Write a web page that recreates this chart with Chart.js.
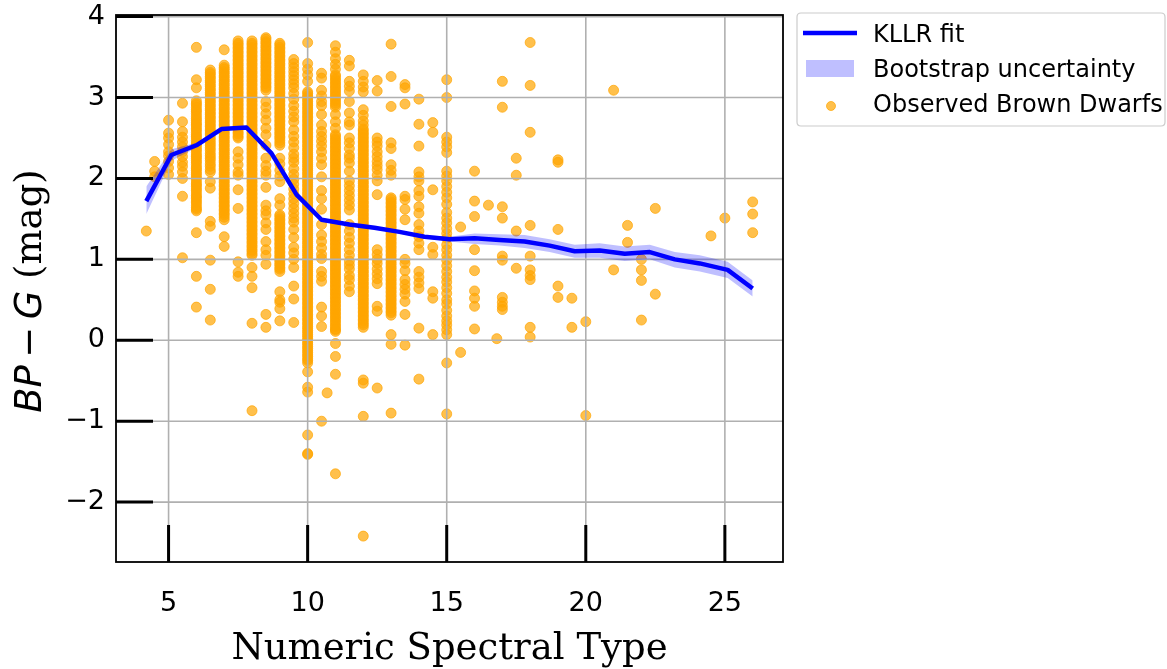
<!DOCTYPE html>
<html><head><meta charset="utf-8">
<script src="https://cdn.jsdelivr.net/npm/chart.js@4.4.1/dist/chart.umd.min.js"></script>
<style>html,body{margin:0;padding:0;background:#fff;} canvas{display:block;}</style>
</head><body>
<canvas id="c" width="1167" height="669"></canvas>
<script>
// ---------- Observed brown dwarfs: BP-G colour per numeric spectral type ----------
const t4_2 = [1.35];
const t4_5 = [2.21, 2.09, 2.02];
const t5_0 = [2.72, 2.56, 2.50, 2.42, 2.33, 2.28, 2.21, 2.13, 2.05];
const t5_5 = [2.93, 2.70, 2.58, 2.51, 2.45, 2.39, 2.33, 2.27, 2.20, 2.15, 2.08, 2.00, 1.78, 1.02];
const t6_0 = [3.62, 3.22, 3.12, 2.96, 2.91, 2.85, 2.80, 2.74, 2.69, 2.65, 2.60, 2.54, 2.50, 2.44, 2.40, 2.35, 2.29, 2.25, 2.20, 2.14, 2.10, 2.05, 2.00, 1.94, 1.90, 1.85, 1.79, 1.75, 1.70, 1.64, 1.60, 1.33, 0.79, 0.41,
  2.93, 2.88, 2.83, 2.77, 2.72, 2.67, 2.62, 2.57, 2.52, 2.47, 2.42, 2.37, 2.32, 2.27, 2.22, 2.17, 2.12, 2.07, 2.02, 1.97, 1.92, 1.87, 1.82, 1.77, 1.72, 1.67, 1.62];
const t6_5 = [3.34, 3.29, 3.24, 3.19, 3.14, 3.09, 3.04, 2.99, 2.94, 2.89, 2.84, 2.79, 2.74, 2.69, 2.64, 2.59, 2.54, 2.47, 2.41, 2.35, 2.28, 2.22, 2.15, 2.08, 1.96, 1.88, 1.47, 1.41, 0.99, 0.63, 0.25,
  3.31, 3.26, 3.21, 3.16, 3.11, 3.06, 3.01, 2.96, 2.91, 2.86, 2.81, 2.76, 2.71, 2.66, 2.61, 2.56, 2.50, 2.44, 2.38, 2.31, 2.25, 2.18, 2.11];
const t7_0 = [3.59, 3.40, 3.35, 3.30, 3.25, 3.20, 3.15, 3.10, 3.05, 3.00, 2.95, 2.90, 2.85, 2.80, 2.75, 2.70, 2.65, 2.60, 2.55, 2.50, 2.45, 2.40, 2.35, 2.30, 2.25, 2.20, 2.15, 2.10, 2.05, 2.00, 1.95, 1.90, 1.85, 1.80, 1.75, 1.70, 1.65, 1.60, 1.55, 1.49, 1.28, 1.16,
  3.37, 3.32, 3.27, 3.22, 3.17, 3.12, 3.07, 3.02, 2.97, 2.92, 2.87, 2.82, 2.77, 2.72, 2.67, 2.62, 2.57, 2.52, 2.47, 2.42, 2.37, 2.32, 2.27, 2.22, 2.17, 2.12, 2.07, 2.02, 1.97, 1.92, 1.87, 1.82, 1.77, 1.72, 1.67, 1.62, 1.57, 1.52];
const t7_5 = [3.70, 3.65, 3.60, 3.55, 3.50, 3.45, 3.40, 3.35, 3.30, 3.25, 3.20, 3.15, 3.10, 3.05, 3.00, 2.95, 2.90, 2.85, 2.80, 2.75, 2.70, 2.65, 2.60, 2.55, 2.50, 2.33, 2.25, 2.17, 2.08, 2.04, 1.86, 1.63, 0.97, 0.84, 0.79,
  3.67, 3.62, 3.57, 3.52, 3.47, 3.42, 3.37, 3.32, 3.27, 3.22, 3.17, 3.12, 3.07, 3.02, 2.97, 2.92, 2.87, 2.82, 2.77, 2.72, 2.67, 2.62, 2.57, 2.52];
const t8_0 = [3.70, 3.65, 3.60, 3.55, 3.50, 3.45, 3.40, 3.35, 3.30, 3.25, 3.20, 3.15, 3.10, 3.05, 3.00, 2.95, 2.90, 2.85, 2.80, 2.75, 2.70, 2.65, 2.60, 2.55, 2.50, 2.45, 2.40, 2.35, 2.30, 2.25, 2.20, 2.15, 2.10, 2.05, 2.00, 1.95, 1.90, 1.85, 1.80, 1.75, 1.70, 1.65, 1.60, 1.55, 1.50, 1.45, 1.40, 1.35, 1.30, 1.25, 1.20, 1.15, 1.10, 1.05, 0.90, 0.79, 0.65, 0.21, -0.87,
  3.67, 3.62, 3.57, 3.52, 3.47, 3.42, 3.37, 3.32, 3.27, 3.22, 3.17, 3.12, 3.07, 3.02, 2.97, 2.92, 2.87, 2.82, 2.77, 2.72, 2.67, 2.62, 2.57, 2.52, 2.47, 2.42, 2.37, 2.32, 2.27, 2.22, 2.17, 2.12, 2.07, 2.02, 1.97, 1.92, 1.87, 1.82, 1.77, 1.72, 1.67, 1.62, 1.57, 1.52, 1.47, 1.42, 1.37, 1.32, 1.27, 1.22, 1.17, 1.12, 1.07];
const t8_5 = [3.74, 3.69, 3.64, 3.59, 3.54, 3.49, 3.44, 3.39, 3.34, 3.29, 3.24, 3.19, 3.14, 3.09, 2.95, 2.88, 2.80, 2.72, 2.62, 2.54, 2.41, 2.25, 2.16, 2.09, 2.04, 1.89, 1.67, 1.60, 1.55, 1.45, 1.37, 1.22, 1.12, 1.05, 0.94, 0.32, 0.16,
  3.72, 3.67, 3.62, 3.57, 3.52, 3.47, 3.42, 3.37, 3.32, 3.27, 3.22, 3.17, 3.12];
const t9_0 = [3.67, 3.62, 3.57, 3.52, 3.47, 3.42, 3.37, 3.32, 3.27, 3.22, 3.17, 3.12, 3.07, 3.02, 2.97, 2.92, 2.87, 2.82, 2.77, 2.72, 2.67, 2.62, 2.57, 2.52, 2.47, 2.41, 2.25, 2.18, 2.10, 2.03, 1.96, 1.75, 1.67, 1.55, 1.50, 1.45, 1.40, 1.35, 1.30, 1.25, 1.20, 1.15, 1.10, 1.05, 1.00, 0.95, 0.90, 0.85, 0.60, 0.50, 0.47, 0.39, 0.24,
  3.65, 3.60, 3.55, 3.50, 3.45, 3.40, 3.35, 3.30, 3.25, 3.20, 3.15, 3.10, 3.05, 3.00, 2.95, 2.90, 2.85, 2.80, 2.75, 2.70, 2.65, 2.60, 2.55, 2.50, 2.44, 1.53, 1.48, 1.43, 1.38, 1.33, 1.28, 1.23, 1.18, 1.13, 1.08, 1.03, 0.98, 0.93, 0.88];
const t9_5 = [3.47, 3.42, 3.37, 3.32, 3.27, 3.22, 3.17, 3.12, 3.05, 2.98, 2.90, 2.83, 2.76, 2.70, 2.60, 2.52, 2.45, 2.38, 2.30, 2.25, 2.20, 2.12, 2.05, 1.99, 1.93, 1.87, 1.81, 1.75, 1.69, 1.63, 1.57, 1.51, 1.46, 1.37, 1.27, 1.15, 1.08, 1.00, 0.90, 0.67, 0.51, 0.22];
const t10_0 = [3.68, 3.42, 3.35, 3.28, 3.20, 3.07, 3.02, 2.97, 2.92, 2.87, 2.82, 2.77, 2.72, 2.67, 2.62, 2.57, 2.52, 2.47, 2.42, 2.37, 2.32, 2.27, 2.22, 2.17, 2.12, 2.07, 2.02, 1.97, 1.92, 1.87, 1.82, 1.77, 1.72, 1.67, 1.62, 1.57, 1.52, 1.47, 1.42, 1.37, 1.32, 1.27, 1.22, 1.17, 1.12, 1.07, 1.02, 0.97, 0.92, 0.87, 0.82, 0.77, 0.72, 0.67, 0.62, 0.57, 0.52, 0.47, 0.42, 0.37, 0.32, 0.27, 0.22, 0.17, 0.12, 0.07, 0.02, -0.03, -0.08, -0.13, -0.18, -0.23, -0.28, -0.39, -0.58, -0.64, -1.17, -1.40, -1.41,
  3.05, 3.00, 2.95, 2.90, 2.85, 2.80, 2.75, 2.70, 2.65, 2.60, 2.55, 2.50, 2.45, 2.40, 2.35, 2.30, 2.25, 2.20, 2.15, 2.10, 2.05, 2.00, 1.95, 1.90, 1.85, 1.80, 1.75, 1.70, 1.65, 1.60, 1.55, 1.50, 1.45, 1.40, 1.35, 1.30, 1.25, 1.20, 1.15, 1.10, 1.05, 1.00, 0.95, 0.90, 0.85, 0.80, 0.75, 0.70, 0.65, 0.60, 0.55, 0.50, 0.45, 0.40, 0.35, 0.30, 0.25, 0.20, 0.15, 0.10, 0.05, 0.00, -0.05, -0.10, -0.15, -0.20, -0.25];
const t10_5 = [3.30, 3.24, 3.09, 3.02, 2.95, 2.90, 2.79, 2.66, 2.58, 2.52, 2.46, 2.40, 2.33, 2.25, 2.17, 2.02, 1.85, 1.75, 1.62, 1.43, 1.30, 1.22, 1.14, 1.06, 1.01, 0.85, 0.79, 0.73, 0.41, 0.30, 0.17, -1.00];
const t10_7 = [-0.65];
const t11_0 = [3.64, 3.56, 3.48, 3.41, 3.35, 3.28, 3.23, 3.18, 3.13, 3.08, 3.03, 2.98, 2.93, 2.88, 2.79, 2.70, 2.62, 2.54, 2.49, 2.44, 2.39, 2.34, 2.29, 2.24, 2.19, 2.14, 2.09, 2.04, 1.99, 1.94, 1.89, 1.84, 1.79, 1.74, 1.69, 1.64, 1.59, 1.54, 1.49, 1.44, 1.39, 1.34, 1.29, 1.24, 1.19, 1.14, 1.09, 1.04, 0.99, 0.94, 0.89, 0.84, 0.79, 0.74, 0.69, 0.64, 0.59, 0.54, 0.49, 0.44, 0.39, 0.34, 0.29, 0.24, 0.19, 0.14, 0.11, -0.04, -0.20, -0.42, -1.65,
  3.26, 3.21, 3.16, 3.11, 3.06, 3.01, 2.96, 2.91, 2.52, 2.47, 2.42, 2.37, 2.32, 2.27, 2.22, 2.17, 2.12, 2.07, 2.02, 1.97, 1.92, 1.87, 1.82, 1.77, 1.72, 1.67, 1.62, 1.57, 1.52, 1.47, 1.42, 1.37, 1.32, 1.27, 1.22, 1.17, 1.12, 1.07, 1.02, 0.97, 0.92, 0.87, 0.82, 0.77, 0.72, 0.67, 0.62, 0.57, 0.52, 0.47, 0.42, 0.37, 0.32, 0.27, 0.22, 0.17, 0.13];
const t11_5 = [3.46, 3.39, 3.20, 3.14, 3.08, 2.95, 2.81, 2.70, 2.66, 2.50, 2.44, 2.37, 2.29, 2.25, 2.19, 2.09, 1.97, 1.91, 1.85, 1.79, 1.73, 1.67, 1.61, 1.43, 1.35, 1.27, 1.20, 1.12, 1.05, 0.98, 0.93, 0.88, 0.80, 0.75, 0.67, 0.60];
const t12_0 = [3.28, 3.20, 3.13, 3.07, 2.85, 2.78, 2.71, 2.66, 2.61, 2.56, 2.51, 2.46, 2.41, 2.36, 2.31, 2.26, 2.21, 2.16, 2.11, 2.06, 2.01, 1.96, 1.91, 1.86, 1.81, 1.76, 1.71, 1.66, 1.61, 1.56, 1.51, 1.46, 1.41, 1.36, 1.31, 1.26, 1.21, 1.16, 1.11, 1.06, 1.01, 0.96, 0.91, 0.86, 0.81, 0.76, 0.71, 0.66, 0.61, 0.56, 0.51, 0.46, 0.41, 0.36, 0.31, 0.26, 0.21, 0.16, -0.49, -0.53, -0.94, -2.42,
  2.59, 2.54, 2.49, 2.44, 2.39, 2.34, 2.29, 2.24, 2.19, 2.14, 2.09, 2.04, 1.99, 1.94, 1.89, 1.84, 1.79, 1.74, 1.69, 1.64, 1.59, 1.54, 1.49, 1.44, 1.39, 1.34, 1.29, 1.24, 1.19, 1.14, 1.09, 1.04, 0.99, 0.94, 0.89, 0.84, 0.79, 0.74, 0.69, 0.64, 0.59, 0.54, 0.49, 0.44, 0.39, 0.34, 0.29, 0.24, 0.19];
const t12_5 = [3.21, 3.08, 2.50, 2.45, 2.40, 2.33, 2.27, 2.21, 2.16, 2.11, 2.04, 1.97, 1.80, 1.12, 1.06, 1.00, 0.95, 0.88, 0.82, 0.76, 0.70, 0.42, 0.36, -0.59];
const t13_0 = [3.66, 3.26, 2.89, 2.44, 2.37, 2.17, 2.10, 2.04, 1.76, 1.71, 1.66, 1.61, 1.56, 1.51, 1.46, 1.41, 1.36, 1.31, 1.26, 1.21, 1.16, 1.11, 1.06, 1.01, 0.96, 0.91, 0.86, 0.81, 0.76, 0.71, 0.66, 0.61, 0.56, 0.51, 0.46, 0.41, 0.36, 0.31, 0.07, -0.05, -0.90,
  1.74, 1.69, 1.64, 1.59, 1.54, 1.49, 1.44, 1.39, 1.34, 1.29, 1.24, 1.19, 1.14, 1.09, 1.04, 0.99, 0.94, 0.89, 0.84, 0.79, 0.74, 0.69, 0.64, 0.59, 0.54, 0.49, 0.44, 0.39, 0.34];
const t13_5 = [3.16, 3.12, 2.92, 1.78, 1.74, 1.62, 1.49, 1.00, 0.95, 0.86, 0.75, 0.69, 0.63, 0.57, 0.48, 0.32, -0.06];
const t14_0 = [2.98, 2.67, 2.40, 2.08, 2.02, 1.97, 1.85, 1.78, 1.65, 1.57, 1.43, 1.35, 1.28, 1.20, 1.12, 0.85, 0.78, 0.71, 0.64, 0.15, -0.48];
const t14_5 = [2.69, 2.57, 1.86, 1.15, 1.06, 0.60, 0.52, 0.07];
const t15_0 = [3.22, 3.00, 2.51, 2.45, 2.39, 2.32, 2.09, 2.03, 1.97, 1.90, 1.83, 1.76, 1.68, 1.58, 1.51, 1.45, 1.38, 1.32, 1.26, 1.18, 1.12, 1.05, 0.99, 0.92, 0.85, 0.78, 0.72, 0.65, 0.58, 0.50, 0.45, 0.37, 0.30, 0.24, 0.19, 0.13, 0.07, -0.28, -0.91];
const t15_5 = [1.40, -0.15];
const t16_0 = [2.09, 1.72, 1.53, 1.12, 0.86, 0.61, 0.52, 0.42, 0.14];
const t16_5 = [1.67];
const t16_8 = [0.02];
const t17_0 = [3.20, 2.88, 1.65, 1.51, 1.04, 0.99, 0.53, 0.47, 0.42, 0.38];
const t17_5 = [2.25, 2.04, 1.35, 0.89];
const t18_0 = [3.68, 3.15, 2.57, 1.42, 1.04, 0.87, 0.80, 0.75, 0.16, 0.04];
const t19_0 = [2.23, 2.20, 1.37, 0.67, 0.53];
const t19_5 = [0.52, 0.16];
const t20_0 = [0.23, -0.93];
const t21_0 = [3.09, 0.87];
const t21_5 = [1.42, 1.21];
const t22_0 = [1.00, 0.87, 0.74, 0.25];
const t22_5 = [1.63, 0.57];
const t24_5 = [1.29];
const t25_0 = [1.51];
const t26_0 = [1.71, 1.56, 1.33];

const columns = [
  [4.2, t4_2], [4.5, t4_5], [5.0, t5_0], [5.5, t5_5], [6.0, t6_0], [6.5, t6_5],
  [7.0, t7_0], [7.5, t7_5], [8.0, t8_0], [8.5, t8_5], [9.0, t9_0], [9.5, t9_5],
  [10.0, t10_0], [10.5, t10_5], [10.7, t10_7], [11.0, t11_0], [11.5, t11_5],
  [12.0, t12_0], [12.5, t12_5], [13.0, t13_0], [13.5, t13_5], [14.0, t14_0],
  [14.5, t14_5], [15.0, t15_0], [15.5, t15_5], [16.0, t16_0], [16.5, t16_5],
  [16.8, t16_8], [17.0, t17_0], [17.5, t17_5], [18.0, t18_0], [19.0, t19_0],
  [19.5, t19_5], [20.0, t20_0], [21.0, t21_0], [21.5, t21_5], [22.0, t22_0],
  [22.5, t22_5], [24.5, t24_5], [25.0, t25_0], [26.0, t26_0]
];

// ---------- KLLR fit and bootstrap band ----------
const kllrX = [4.2, 5.1, 6.0, 6.9, 7.8, 8.7, 9.6, 10.5, 11.5, 12.4, 13.3, 14.2, 15.1, 16.0, 16.9, 17.8, 18.7, 19.6, 20.5, 21.4, 22.3, 23.2, 24.1, 25.1, 26.0];
const kllrY = [1.72, 2.29, 2.41, 2.61, 2.63, 2.31, 1.80, 1.49, 1.43, 1.39, 1.34, 1.28, 1.25, 1.26, 1.24, 1.22, 1.17, 1.10, 1.11, 1.07, 1.09, 1.00, 0.95, 0.87, 0.64];
const bandLow = [1.56, 2.22, 2.38, 2.59, 2.61, 2.29, 1.78, 1.47, 1.41, 1.37, 1.32, 1.26, 1.22, 1.19, 1.17, 1.14, 1.09, 1.02, 1.02, 0.98, 1.00, 0.90, 0.85, 0.77, 0.54];
const bandHigh = [1.90, 2.36, 2.44, 2.63, 2.65, 2.33, 1.82, 1.51, 1.45, 1.41, 1.36, 1.30, 1.28, 1.32, 1.31, 1.30, 1.25, 1.18, 1.20, 1.16, 1.18, 1.09, 1.05, 0.97, 0.74];

// ---------- axes ----------
const xTicks = [5, 10, 15, 20, 25];
const yTicks = [-2, -1, 0, 1, 2, 3, 4];
const X_MIN = 3.11, X_MAX = 27.09, Y_MIN = -2.74, Y_MAX = 4.02;

const points = [];
columns.forEach(([x, ys]) => ys.forEach(y => points.push({x: x, y: y})));
const fitPts = kllrX.map((x, i) => ({x: x, y: kllrY[i]}));
const lowPts = kllrX.map((x, i) => ({x: x, y: bandLow[i]}));
const highPts = kllrX.map((x, i) => ({x: x, y: bandHigh[i]}));

const ORANGE = 'rgba(255,165,0,0.7)';
const BAND = 'rgba(0,0,255,0.25)';

const decor = {
  id: 'decor',
  afterDatasetDraw(chart, args) {
    if (args.index !== 0) return;
    const {ctx, chartArea: a, scales: {x, y}} = chart;
    ctx.save();
    ctx.beginPath(); ctx.rect(a.left, a.top, a.width, a.height); ctx.clip();
    ctx.strokeStyle = '#b0b0b0'; ctx.lineWidth = 1.6;
    ctx.beginPath();
    xTicks.forEach(v => { const p = x.getPixelForValue(v); ctx.moveTo(p, a.top); ctx.lineTo(p, a.bottom); });
    yTicks.forEach(v => { const p = y.getPixelForValue(v); ctx.moveTo(a.left, p); ctx.lineTo(a.right, p); });
    ctx.stroke();
    ctx.restore();
  },
  afterDraw(chart) {
    const {ctx, chartArea: a, scales: {x, y}} = chart;
    ctx.save();
    // inward ticks
    ctx.strokeStyle = '#000'; ctx.lineWidth = 3; ctx.lineCap = 'butt';
    ctx.beginPath();
    yTicks.forEach(v => { const p = y.getPixelForValue(v); ctx.moveTo(a.left, p); ctx.lineTo(a.left + 37, p); });
    xTicks.forEach(v => { const p = x.getPixelForValue(v); ctx.moveTo(p, a.bottom); ctx.lineTo(p, a.bottom - 37); });
    ctx.stroke();
    // spines
    ctx.lineWidth = 1.8;
    ctx.strokeRect(a.left, a.top, a.width, a.height);

    // axis titles
    ctx.fillStyle = '#000';
    ctx.font = '37px "DejaVu Serif"';
    ctx.textAlign = 'center'; ctx.textBaseline = 'alphabetic';
    ctx.fillText('Numeric Spectral Type', (a.left + a.right) / 2, 659);

    const parts = [
      {t: 'BP', f: 'italic 37px "DejaVu Sans"'},
      {t: '\u2009\u2212\u2009', f: '37px "DejaVu Sans"'},
      {t: 'G', f: 'italic 37px "DejaVu Sans"'},
      {t: ' (mag)', f: '37px "DejaVu Serif"'}
    ];
    let total = 0;
    parts.forEach(p => { ctx.font = p.f; p.w = ctx.measureText(p.t).width; total += p.w; });
    ctx.translate(41, 291);
    ctx.rotate(-Math.PI / 2);
    ctx.textAlign = 'left';
    let cx = -total / 2;
    parts.forEach(p => { ctx.font = p.f; ctx.fillText(p.t, cx, 0); cx += p.w; });
    ctx.restore();

    // legend
    ctx.save();
    const L = 797, T = 13, R = 1165, B = 126, rr = 4;
    ctx.beginPath();
    ctx.moveTo(L + rr, T); ctx.lineTo(R - rr, T); ctx.quadraticCurveTo(R, T, R, T + rr);
    ctx.lineTo(R, B - rr); ctx.quadraticCurveTo(R, B, R - rr, B);
    ctx.lineTo(L + rr, B); ctx.quadraticCurveTo(L, B, L, B - rr);
    ctx.lineTo(L, T + rr); ctx.quadraticCurveTo(L, T, L + rr, T);
    ctx.closePath();
    ctx.fillStyle = 'rgba(255,255,255,0.8)'; ctx.fill();
    ctx.strokeStyle = '#cccccc'; ctx.lineWidth = 1.2; ctx.stroke();

    ctx.strokeStyle = '#0000ff'; ctx.lineWidth = 4.5;
    ctx.beginPath(); ctx.moveTo(803, 33); ctx.lineTo(857, 33); ctx.stroke();
    ctx.fillStyle = BAND; ctx.fillRect(806, 60, 48, 17);
    ctx.beginPath(); ctx.arc(831, 106, 4.5, 0, Math.PI * 2);
    ctx.fillStyle = ORANGE; ctx.fill(); ctx.strokeStyle = ORANGE; ctx.lineWidth = 1; ctx.stroke();

    ctx.fillStyle = '#000'; ctx.font = '24px "DejaVu Sans"';
    ctx.textAlign = 'left'; ctx.textBaseline = 'alphabetic';
    ctx.fillText('KLLR fit', 873, 42);
    ctx.fillText('Bootstrap uncertainty', 873, 77);
    ctx.fillText('Observed Brown Dwarfs', 873, 112);
    ctx.restore();
  }
};

new Chart(document.getElementById('c'), {
  type: 'scatter',
  data: {
    datasets: [
      {label: 'Observed Brown Dwarfs', data: points, pointRadius: 5, pointBorderWidth: 1,
       backgroundColor: ORANGE, borderColor: ORANGE, order: 3},
      {type: 'line', label: 'Bootstrap uncertainty', data: highPts, borderWidth: 0, pointRadius: 0,
       fill: '+1', backgroundColor: BAND, borderColor: 'rgba(0,0,0,0)', tension: 0, order: 2},
      {type: 'line', label: 'lower', data: lowPts, borderWidth: 0, pointRadius: 0,
       fill: false, borderColor: 'rgba(0,0,0,0)', tension: 0, order: 2},
      {type: 'line', label: 'KLLR fit', data: fitPts, borderColor: '#0000ff', borderWidth: 4.5,
       pointRadius: 0, fill: false, tension: 0, borderJoinStyle: 'round', order: 1}
    ]
  },
  options: {
    responsive: false,
    devicePixelRatio: 1,
    animation: false,
    events: [],
    layout: {padding: {left: 0, top: 15, right: 384, bottom: 0}},
    plugins: {legend: {display: false}, tooltip: {enabled: false}},
    scales: {
      x: {
        type: 'linear', min: X_MIN, max: X_MAX,
        afterFit: s => { s.height = 107; s.paddingLeft = 0; s.paddingRight = 0; s.paddingTop = 0; s.paddingBottom = 0; },
        grid: {display: false, drawTicks: false},
        border: {display: false},
        ticks: {stepSize: 5, includeBounds: false, padding: 26, color: '#000',
                font: {family: '"DejaVu Sans"', size: 27}, maxRotation: 0}
      },
      y: {
        type: 'linear', min: Y_MIN, max: Y_MAX,
        afterFit: s => { s.width = 116; s.paddingTop = 0; s.paddingBottom = 0; s.paddingLeft = 0; s.paddingRight = 0; },
        grid: {display: false, drawTicks: false},
        border: {display: false},
        ticks: {stepSize: 1, includeBounds: false, padding: 11, color: '#000',
                font: {family: '"DejaVu Sans"', size: 27},
                callback: v => (v < 0 ? '\u2212' + Math.abs(v) : String(v))}
      }
    }
  },
  plugins: [decor]
});
</script>
</body></html>
